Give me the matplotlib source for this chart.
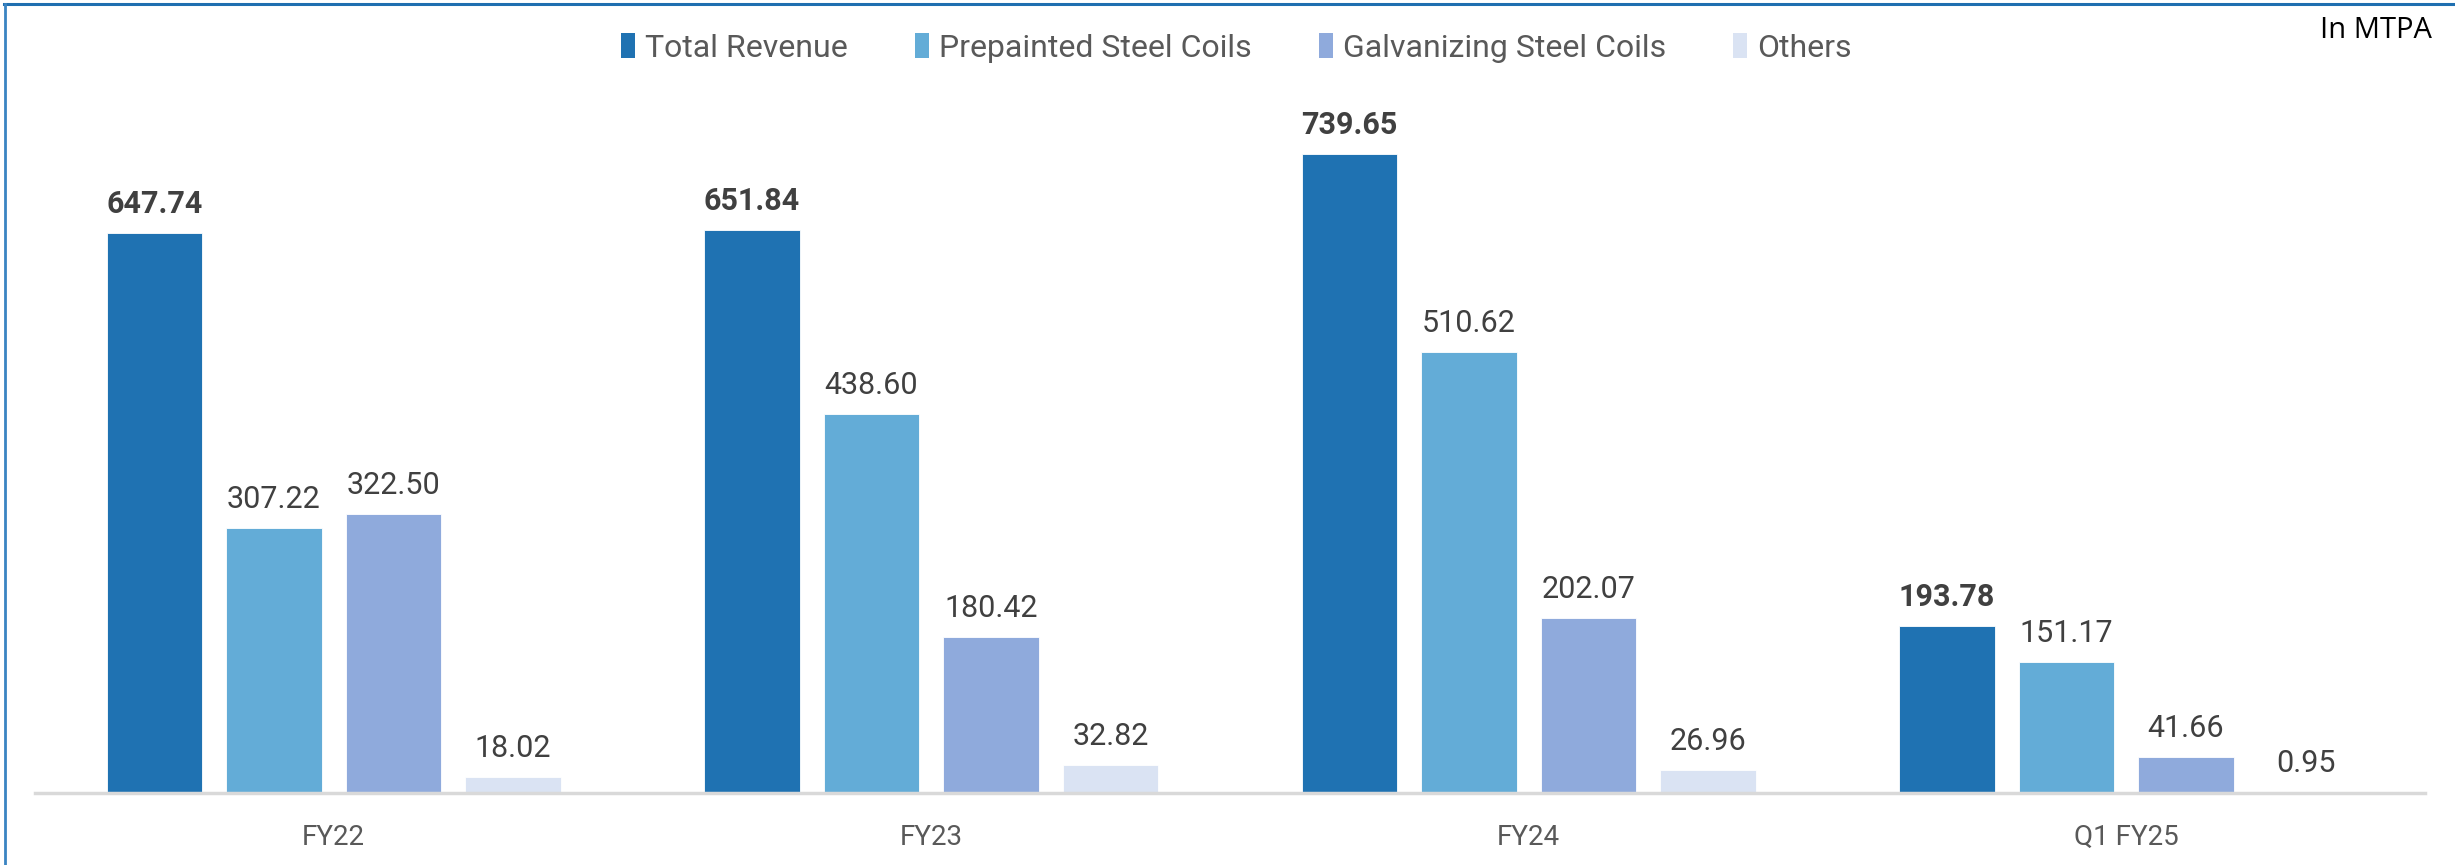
import numpy as np
import matplotlib
matplotlib.use('Agg')
import matplotlib.pyplot as plt
from matplotlib.lines import Line2D
from matplotlib.patches import Patch

plt.rcParams['font.family'] = ['Roboto', 'DejaVu Sans']

# ── data ──
periods = ['FY22', 'FY23', 'FY24', 'Q1 FY25']
series_names = ['Total Revenue', 'Prepainted Steel Coils', 'Galvanizing Steel Coils', 'Others']
total_revenue = [647.74, 651.84, 739.65, 193.78]
prepainted = [307.22, 438.60, 510.62, 151.17]
galvanizing = [322.50, 180.42, 202.07, 41.66]
others = [18.02, 32.82, 26.96, 0.95]

colors = ['#1F72B2', '#63ACD7', '#8FAADC', '#DAE3F3']
label_color = '#404040'

W, H = 2455, 865
fig = plt.figure(figsize=(W / 100, H / 100), dpi=100)
ax = fig.add_axes([35 / W, (H - 793) / H, (2425 - 35) / W, 793 / H])

x = np.arange(len(periods))
offsets = [-0.3, -0.1, 0.1, 0.3]
width = 0.16
all_series = [total_revenue, prepainted, galvanizing, others]

for k, (vals, off, col) in enumerate(zip(all_series, offsets, colors)):
    bars = ax.bar(x + off, vals, width, color=col, edgecolor='white', linewidth=0.6, zorder=2)
    for b, v in zip(bars, vals):
        ax.annotate(f'{v:.2f}', (b.get_x() + b.get_width() / 2, b.get_height()),
                    xytext=(0, 14), textcoords='offset pixels',
                    ha='center', va='bottom', fontsize=22, color=label_color,
                    fontweight='bold' if k == 0 else 'normal')

ax.set_xlim(-0.5, 3.5)
ax.set_ylim(0, 918)
ax.set_xticks(x)
ax.set_xticklabels(periods, fontsize=20, color='#595959')
ax.tick_params(axis='x', length=0, pad=22)
ax.set_yticks([])
for s in ['top', 'right', 'left']:
    ax.spines[s].set_visible(False)
ax.spines['bottom'].set_color('#D9D9D9')
ax.spines['bottom'].set_linewidth(2.5)
ax.patch.set_alpha(0)

# legend
handles = [Patch(facecolor=c, edgecolor='none') for c in colors]
fig.legend(handles, series_names, loc='center', bbox_to_anchor=(0.5036, 1 - 48 / H),
           ncol=4, frameon=False, labelcolor='#595959',
           handlelength=0.45, handleheight=0.8, handletextpad=0.3, columnspacing=2.1,
           prop={'family': ['Roboto', 'DejaVu Sans'], 'size': 23})

fig.text(2432 / W, 1 - 31 / H, 'In MTPA', ha='right', va='center', fontsize=21,
         color='black', family=['Open Sans', 'DejaVu Sans'])

# frame lines (top and left)
fig.add_artist(Line2D([4 / W, 1], [1 - 4 / H, 1 - 4 / H], color='#1F6FB0', linewidth=2.2))
fig.add_artist(Line2D([5 / W, 5 / W], [0, 1 - 4 / H], color='#3A84C2', linewidth=2.0))

fig.savefig('out.png', dpi=100)
